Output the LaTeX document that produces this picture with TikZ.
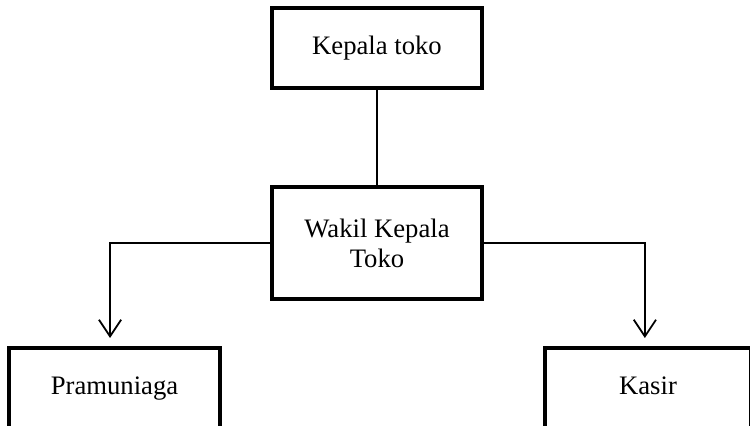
\documentclass[tikz,border=0pt]{standalone}
\usepackage{fontspec}
\setmainfont{Liberation Serif}
\usetikzlibrary{arrows.meta,positioning}
\tikzset{
  jabatan/.style={draw,line width=1.8pt,align=center,font=\fontsize{12}{13.5}\selectfont},
  satubaris/.style={text height=8.2pt,text depth=2.6pt},
  garis/.style={line width=0.75pt},
  panah/.style={garis,-{Straight Barb[length=7.5pt,width=10pt,line width=0.8pt]},shorten >=3.6pt}
}
\begin{document}
\begin{tikzpicture}[x=0.45pt,y=-0.45pt]
\clip (0,0) rectangle (750,426);
\useasboundingbox (0,0) rectangle (750,426);
\node[jabatan,satubaris,minimum width=94.5pt,minimum height=36pt] (kepala) at (377,48) {Kepala toko};
\node[jabatan,minimum width=94.5pt,minimum height=50.4pt] (wakil) at (377,243) {Wakil Kepala\\Toko};
\node[jabatan,satubaris,minimum width=95pt,minimum height=36pt] (pram) at (114.5,388) {Pramuniaga};
\node[jabatan,satubaris,minimum width=93pt,minimum height=36pt] (kasir) at (648,388) {Kasir};
\draw[garis] (kepala) -- (wakil);
\draw[panah] (wakil.west) -| ([xshift=-2pt]pram.north);
\draw[panah] (wakil.east) -| ([xshift=-1.4pt]kasir.north);
\end{tikzpicture}
\end{document}
